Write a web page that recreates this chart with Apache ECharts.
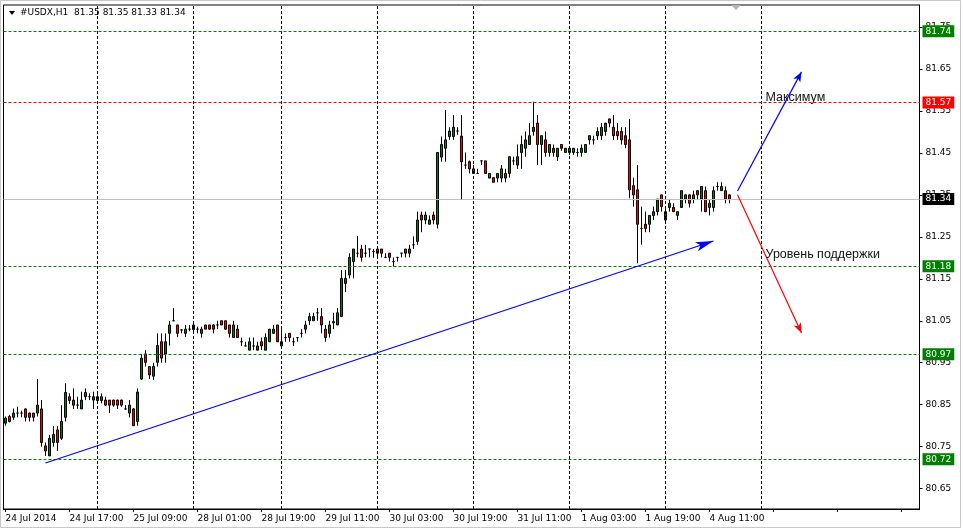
<!DOCTYPE html>
<html><head><meta charset="utf-8">
<script src="https://cdn.jsdelivr.net/npm/echarts@6/dist/echarts.min.js"></script>
<style>html,body{margin:0;padding:0;background:#fff;}#c{width:963px;height:530px;}</style>
</head><body><div id="c"></div><script>
// ---- data (hourly candles, USDX) ----
const opens = [80.806,80.822,80.820,80.830,80.830,80.840,80.830,80.830,80.830,80.840,
80.752,80.728,80.760,80.790,80.770,80.820,80.869,80.849,80.849,80.840,
80.869,80.869,80.861,80.860,80.860,80.861,80.861,80.861,80.861,80.861,
80.840,80.830,80.840,80.810,80.911,80.971,80.941,80.918,80.951,81.000,
80.971,81.020,81.050,81.040,81.028,81.020,81.030,81.029,81.030,81.020,
81.040,81.040,81.040,81.040,81.050,81.050,81.040,81.010,81.030,81.000,
80.990,80.980,80.990,80.980,81.000,80.980,81.000,81.020,81.040,80.990,
81.010,81.020,81.000,81.010,81.020,81.030,81.050,81.050,81.069,81.060,
81.030,81.020,81.045,81.040,81.060,81.139,81.159,81.191,81.211,81.221,
81.211,81.221,81.215,81.221,81.221,81.201,81.211,81.191,81.201,81.211,
81.221,81.211,81.231,81.239,81.302,81.290,81.280,81.302,81.280,81.440,
81.461,81.489,81.489,81.502,81.490,81.421,81.429,81.401,81.401,81.431,
81.431,81.390,81.391,81.390,81.390,81.401,81.401,81.431,81.421,81.451,
81.461,81.470,81.501,81.521,81.470,81.481,81.451,81.461,81.441,81.470,
81.451,81.451,81.451,81.451,81.451,81.451,81.481,81.481,81.491,81.491,
81.501,81.531,81.511,81.501,81.501,81.491,81.481,81.372,81.362,81.270,
81.280,81.280,81.301,81.310,81.350,81.290,81.320,81.320,81.301,81.320,
81.340,81.350,81.340,81.360,81.340,81.360,81.320,81.320,81.370,81.360,
81.360,81.350];
const closes = [80.818,80.810,80.830,80.830,80.830,80.820,80.820,80.820,80.849,80.760,
80.740,80.770,80.779,80.760,80.810,80.879,80.860,80.861,80.849,80.861,
80.879,80.869,80.869,80.869,80.869,80.849,80.849,80.849,80.849,80.849,
80.840,80.849,80.800,80.880,80.961,80.951,80.921,80.941,80.991,80.961,
81.000,81.040,81.050,81.020,81.028,81.030,81.030,81.040,81.030,81.030,
81.030,81.030,81.030,81.040,81.040,81.030,81.020,81.040,81.010,81.000,
80.990,81.000,80.990,80.990,80.990,81.010,81.030,81.030,81.000,81.000,
81.010,81.010,81.000,81.010,81.020,81.040,81.060,81.060,81.069,81.040,
81.010,81.040,81.048,81.069,81.151,81.151,81.201,81.221,81.211,81.201,
81.211,81.221,81.215,81.211,81.211,81.201,81.201,81.191,81.201,81.211,
81.211,81.221,81.231,81.290,81.290,81.302,81.290,81.290,81.451,81.470,
81.481,81.502,81.511,81.502,81.429,81.421,81.412,81.412,81.401,81.431,
81.401,81.401,81.380,81.401,81.412,81.390,81.441,81.431,81.441,81.470,
81.481,81.491,81.511,81.470,81.491,81.451,81.470,81.451,81.461,81.461,
81.461,81.461,81.461,81.451,81.461,81.470,81.491,81.481,81.501,81.511,
81.521,81.521,81.491,81.491,81.481,81.470,81.362,81.350,81.280,81.270,
81.270,81.301,81.310,81.340,81.322,81.310,81.330,81.310,81.310,81.360,
81.350,81.330,81.350,81.350,81.370,81.310,81.330,81.360,81.370,81.370,
81.340,81.340];
const lows = [80.800,80.808,80.814,80.820,80.820,80.810,80.810,80.810,80.822,80.750,
80.728,80.728,80.750,80.740,80.766,80.810,80.852,80.840,80.840,80.840,
80.861,80.861,80.840,80.855,80.853,80.847,80.830,80.845,80.840,80.845,
80.838,80.820,80.800,80.800,80.909,80.941,80.911,80.909,80.941,80.950,
80.950,80.991,81.050,81.011,81.020,81.011,81.025,81.025,81.020,81.010,
81.030,81.028,81.020,81.030,81.040,81.028,81.010,81.010,81.010,80.990,
80.990,80.980,80.980,80.980,80.980,80.980,81.000,81.020,81.000,80.984,
81.000,81.000,80.990,81.000,81.010,81.020,81.040,81.050,81.050,81.020,
81.000,81.010,81.030,81.040,81.060,81.119,81.151,81.151,81.201,81.191,
81.201,81.201,81.200,81.201,81.201,81.200,81.191,81.179,81.191,81.201,
81.201,81.201,81.221,81.231,81.261,81.280,81.280,81.280,81.270,81.429,
81.429,81.481,81.481,81.493,81.338,81.412,81.401,81.401,81.401,81.421,
81.401,81.390,81.380,81.380,81.380,81.380,81.391,81.421,81.412,81.412,
81.441,81.470,81.491,81.421,81.421,81.441,81.441,81.441,81.431,81.455,
81.451,81.445,81.445,81.441,81.441,81.451,81.470,81.470,81.481,81.481,
81.491,81.511,81.481,81.481,81.470,81.461,81.342,81.322,81.187,81.231,
81.261,81.261,81.290,81.301,81.310,81.286,81.310,81.310,81.290,81.320,
81.330,81.320,81.330,81.340,81.310,81.310,81.301,81.310,81.360,81.360,
81.330,81.330];
const highs = [80.822,80.826,80.841,80.845,80.836,80.841,80.831,80.830,80.911,80.861,
80.760,80.778,80.799,80.799,80.849,80.901,80.877,80.889,80.869,80.881,
80.889,80.877,80.881,80.875,80.877,80.869,80.861,80.862,80.862,80.862,
80.849,80.861,80.842,80.889,80.971,80.980,80.941,80.950,81.020,81.020,
81.020,81.050,81.080,81.040,81.030,81.040,81.040,81.045,81.036,81.036,
81.040,81.040,81.042,81.050,81.050,81.050,81.040,81.050,81.040,81.010,
81.000,81.010,81.010,81.000,81.010,81.020,81.030,81.040,81.040,81.030,
81.020,81.020,81.010,81.010,81.030,81.050,81.069,81.069,81.080,81.080,
81.040,81.050,81.069,81.080,81.171,81.171,81.211,81.221,81.252,81.231,
81.231,81.221,81.221,81.221,81.221,81.211,81.211,81.201,81.201,81.211,
81.221,81.231,81.251,81.310,81.310,81.310,81.301,81.310,81.451,81.489,
81.552,81.511,81.540,81.511,81.540,81.451,81.432,81.421,81.412,81.431,
81.431,81.401,81.391,81.401,81.421,81.412,81.441,81.441,81.470,81.491,
81.501,81.521,81.572,81.540,81.491,81.501,81.470,81.470,81.461,81.470,
81.461,81.465,81.461,81.461,81.470,81.470,81.491,81.491,81.511,81.521,
81.521,81.531,81.540,81.521,81.511,81.511,81.531,81.391,81.421,81.322,
81.310,81.301,81.322,81.340,81.350,81.322,81.340,81.330,81.310,81.360,
81.350,81.350,81.360,81.360,81.370,81.370,81.340,81.370,81.380,81.380,
81.370,81.350];
const slotCount = 229;
const xTickLabels = ['24 Jul 2014','24 Jul 17:00','25 Jul 09:00','28 Jul 01:00','28 Jul 19:00','29 Jul 11:00',
  '30 Jul 03:00','30 Jul 19:00','31 Jul 11:00','1 Aug 03:00','1 Aug 19:00','4 Aug 11:00'];
const labelStep = 16;
const yTickValues = [80.65,80.75,80.85,80.95,81.05,81.15,81.25,81.35,81.45,81.55,81.65,81.75];
const levelPrices = [81.74, 81.57, 81.34, 81.18, 80.97, 80.72];
const levelKinds  = ['support','resist','bid','support','support','support'];
const vGridSlots = [23, 47, 69, 93, 117, 141, 165, 189];
const trendLine = [[10, 80.711], [177, 81.240]];
const upArrow = [[183, 81.359], [199, 81.643]];
const downArrow = [[183, 81.350], [199, 81.021]];
const noteTexts = ['Максимум', 'Уровень поддержки'];
const noteCoords = [[190, 81.583], [190, 81.207]];
const titleText = '#USDX,H1  81.35 81.35 81.33 81.34';

// ---- build ----
const categories = Array.from({length: slotCount}, (_, i) => String(i));
const candleData = opens.map((o, i) => [o, closes[i], lows[i], highs[i]]);
const kindStyle = {
  support: {line: '#008000', type: [3, 2], box: '#008000'},
  resist:  {line: '#ff0000', type: [3, 2], box: '#ff0000'},
  bid:     {line: '#c0c0c0', type: 'solid', box: '#000000'}
};
const FONT = 'DejaVu Sans';
const FS = 9;
const levelLines = levelPrices.map((p, i) => {
  const s = kindStyle[levelKinds[i]];
  return {
    yAxis: p,
    lineStyle: {color: s.line, type: s.type, width: 1},
    label: {show: true, position: 'end', distance: 3, formatter: p.toFixed(2),
      backgroundColor: s.box, color: '#fff', padding: [2, 3, 1, 3],
      fontFamily: FONT, fontSize: FS}
  };
});
const gridLines = vGridSlots.map(s => ({
  xAxis: s, lineStyle: {color: '#000', type: [3, 2], width: 1}, label: {show: false}
}));
function arrowItem(pts, color, size) {
  return [
    {coord: pts[0], symbol: 'none', lineStyle: {color: color, width: 1.2, type: 'solid'}},
    {coord: pts[1], symbol: 'arrow', symbolSize: size}
  ];
}

const chart = echarts.init(document.getElementById('c'), null, {renderer: 'canvas'});
chart.setOption({
  animation: false,
  backgroundColor: '#fff',
  grid: {left: 3.5, top: 5, width: slotCount * 4, height: 504, show: true,
    borderColor: '#000', borderWidth: 1, backgroundColor: '#fff'},
  xAxis: {
    type: 'category', data: categories, boundaryGap: true,
    axisLine: {show: true, lineStyle: {color: '#000'}},
    axisTick: {show: true, interval: labelStep - 1, alignWithLabel: true, length: 3, lineStyle: {color: '#000'}},
    axisLabel: {interval: labelStep - 1, align: 'left', margin: 5, color: '#000',
      fontFamily: FONT, fontSize: FS,
      formatter: (v, idx) => (idx % labelStep === 0 ? (xTickLabels[idx / labelStep] || '') : '')},
    splitLine: {show: false}
  },
  yAxis: {
    type: 'value', position: 'right', min: 80.6015, max: 81.8024, scale: true,
    axisLine: {show: true, lineStyle: {color: '#000'}},
    axisTick: {show: true, length: 3, customValues: yTickValues, lineStyle: {color: '#000'}},
    axisLabel: {customValues: yTickValues, margin: 6, color: '#000', fontFamily: FONT, fontSize: FS,
      formatter: v => v.toFixed(2)},
    splitLine: {show: false}
  },
  graphic: [
    {type: 'rect', shape: {x: 0.5, y: 0.5, width: 960, height: 527}, style: {fill: 'none', stroke: '#c8c8c8'}, silent: true, z: -10},
    {type: 'polygon', shape: {points: [[9, 11], [15, 11], [12, 15]]}, style: {fill: '#000'}, z: 10},
    {type: 'text', x: 20, y: 13, style: {text: titleText, fontFamily: FONT, fontSize: FS, fill: '#000', verticalAlign: 'middle'}, z: 10},
    {type: 'polygon', shape: {points: [[731, 5], [741, 5], [736, 10]]}, style: {fill: '#b4b4b4'}, z: 10}
  ],
  series: [
    {
      type: 'line', data: [], z: 1, silent: true,
      markLine: {silent: true, symbol: 'none', animation: false, precision: 5,
        data: gridLines.concat(levelLines)},
      markPoint: {silent: true, symbol: 'circle', symbolSize: 0, animation: false,
        label: {show: true, position: 'right', distance: 0, color: '#111',
          fontFamily: 'Liberation Sans', fontSize: 12.5, formatter: p => p.name},
        data: noteTexts.map((t, i) => ({name: t, coord: noteCoords[i]}))}
    },
    {
      type: 'candlestick', data: candleData, z: 3, barWidth: 2,
      itemStyle: {color: '#008000', color0: '#ff0000', borderColor: '#000', borderColor0: '#000', borderWidth: 1},
      markLine: {silent: true, animation: false, label: {show: false},
        data: [
          arrowItem(trendLine, '#0000ff', [7, 18]),
          arrowItem(upArrow, '#0000ff', [6, 10]),
          arrowItem(downArrow, '#ff0000', [6, 10])
        ]}
    }
  ]
});
</script></body></html>
